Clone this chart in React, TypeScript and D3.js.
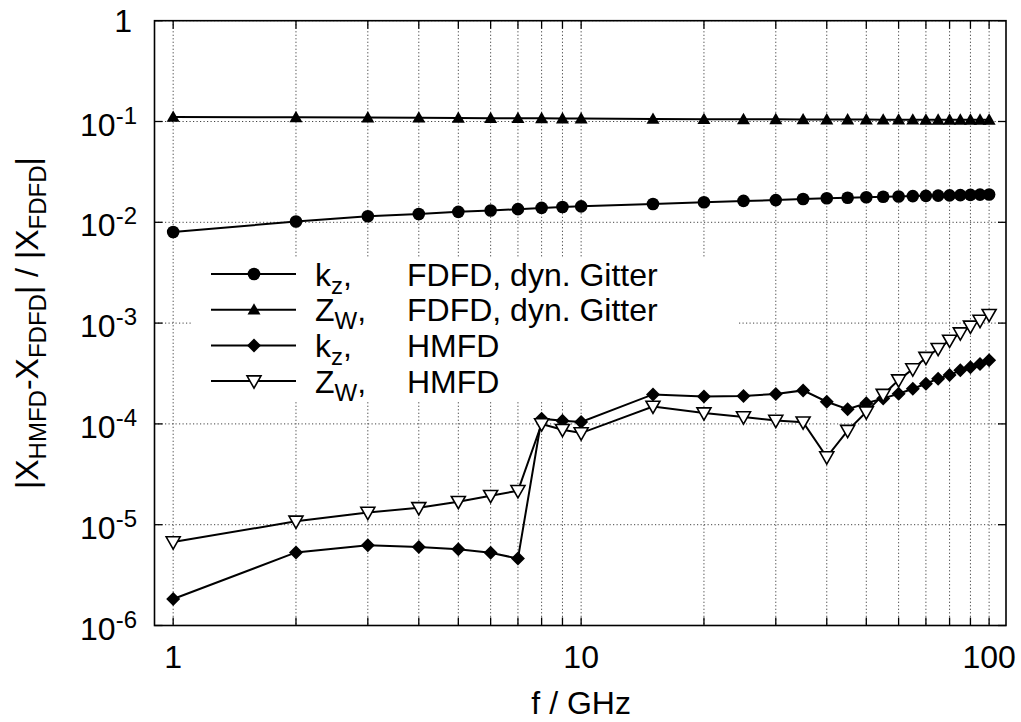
import React from "react";
import * as d3 from "d3";

const freqs = [1, 2, 3, 4, 5, 6, 7, 8, 9, 10, 15, 20, 25, 30, 35, 40, 45, 50, 55, 60, 65, 70, 75, 80, 85, 90, 95, 100];
const kzFdfd = [0.0080, 0.0102, 0.0115, 0.0121, 0.0127, 0.0131, 0.0135, 0.0139, 0.0142, 0.0144, 0.0152, 0.0158, 0.0163, 0.0166, 0.0170, 0.0173, 0.0175, 0.0177, 0.0179, 0.0180, 0.0182, 0.0183, 0.0184, 0.0185, 0.0186, 0.0187, 0.0188, 0.0189];
const zwFdfd = [0.111, 0.110, 0.1095, 0.109, 0.1085, 0.108, 0.108, 0.1075, 0.107, 0.107, 0.106, 0.1055, 0.1052, 0.105, 0.1048, 0.1046, 0.1045, 0.1044, 0.1043, 0.1042, 0.1041, 0.104, 0.104, 0.104, 0.1039, 0.1039, 0.1038, 0.1038];
const kzHmfd = [1.83e-6, 5.31e-6, 6.24e-6, 6.01e-6, 5.70e-6, 5.28e-6, 4.61e-6, 1.127e-4, 1.076e-4, 1.044e-4, 1.96e-4, 1.87e-4, 1.89e-4, 1.98e-4, 2.15e-4, 1.66e-4, 1.40e-4, 1.60e-4, 1.79e-4, 1.99e-4, 2.23e-4, 2.50e-4, 2.81e-4, 3.05e-4, 3.40e-4, 3.64e-4, 3.93e-4, 4.27e-4];
const zwHmfd = [6.73e-6, 1.08e-5, 1.32e-5, 1.47e-5, 1.69e-5, 1.94e-5, 2.17e-5, 9.97e-5, 8.75e-5, 8.11e-5, 1.49e-4, 1.28e-4, 1.17e-4, 1.08e-4, 1.04e-4, 4.69e-5, 8.57e-5, 1.31e-4, 1.95e-4, 2.72e-4, 3.50e-4, 4.54e-4, 5.57e-4, 6.73e-4, 7.96e-4, 9.27e-4, 1.06e-3, 1.21e-3];

const xTickLabels = [1, 10, 100];
const xGridValues = [1, 2, 3, 4, 5, 6, 7, 8, 9, 10, 20, 30, 40, 50, 60, 70, 80, 90, 100];
const yTickExponents = [0, -1, -2, -3, -4, -5, -6];

const seriesDefs = [
  { name: "kz", sub: "z", base: "k", desc: "FDFD, dyn. Gitter", values: kzFdfd, marker: "circle" },
  { name: "zw", sub: "W", base: "Z", desc: "FDFD, dyn. Gitter", values: zwFdfd, marker: "triUp" },
  { name: "kzh", sub: "z", base: "k", desc: "HMFD", values: kzHmfd, marker: "diamond" },
  { name: "zwh", sub: "W", base: "Z", desc: "HMFD", values: zwHmfd, marker: "triDown" },
];

const W = 1021, H = 722;
const left = 154.5, right = 1006, top = 20.7, bottom = 625.5;
const FONT = "'Liberation Sans', Arial, Helvetica, sans-serif";
const FS = 32;
const SFS = 24;

function Marker({ type, x, y }: { type: string; x: number; y: number }) {
  if (type === "circle") return <circle cx={x} cy={y} r={6.3} fill="#000" />;
  if (type === "triUp") {
    const s = 6.5;
    return <path d={`M${x},${y - s}L${x + s},${y + s * 0.75}L${x - s},${y + s * 0.75}Z`} fill="#000" />;
  }
  if (type === "diamond") {
    const s = 7;
    return <path d={`M${x},${y - s}L${x + s},${y}L${x},${y + s}L${x - s},${y}Z`} fill="#000" />;
  }
  const s = 7;
  return (
    <path
      d={`M${x - s},${y - s * 0.75}L${x + s},${y - s * 0.75}L${x},${y + s}Z`}
      fill="#fff"
      stroke="#000"
      strokeWidth={1.6}
    />
  );
}

export default function App() {
  const x = d3.scaleLog().domain([0.9, 110]).range([left, right]);
  const y = d3.scaleLog().domain([1e-6, 1]).range([bottom, top]);
  const line = d3
    .line<[number, number]>()
    .x((d) => x(d[0]))
    .y((d) => y(d[1]));

  const legendRows = [274, 309.7, 345.4, 381.1];
  const gridStyle = { stroke: "#444", strokeWidth: 1, strokeDasharray: "1.2,2.3" };

  return (
    <svg
      width={W}
      height={H}
      style={{ position: "absolute", left: 0, top: 0, background: "#fff" }}
      fontFamily={FONT}
    >
      <rect x={0} y={0} width={W} height={H} fill="#fff" />
      {/* grid */}
      {xGridValues.map((v) => (
        <line key={"gx" + v} x1={x(v)} x2={x(v)} y1={top} y2={bottom} {...gridStyle} />
      ))}
      {yTickExponents.map((e) => (
        <line key={"gy" + e} x1={left} x2={right} y1={y(Math.pow(10, e))} y2={y(Math.pow(10, e))} {...gridStyle} />
      ))}
      {/* legend background */}
      <rect x={192} y={257} width={546} height={143} fill="#fff" />

      {/* ticks */}
      {xGridValues.map((v) => (
        <g key={"tx" + v}>
          <line x1={x(v)} x2={x(v)} y1={bottom} y2={bottom - 8} stroke="#000" strokeWidth={1.3} />
          <line x1={x(v)} x2={x(v)} y1={top} y2={top + 8} stroke="#000" strokeWidth={1.3} />
        </g>
      ))}
      {yTickExponents.map((e) => (
        <g key={"ty" + e}>
          <line x1={left} x2={left + 8} y1={y(Math.pow(10, e))} y2={y(Math.pow(10, e))} stroke="#000" strokeWidth={1.3} />
          <line x1={right} x2={right - 8} y1={y(Math.pow(10, e))} y2={y(Math.pow(10, e))} stroke="#000" strokeWidth={1.3} />
        </g>
      ))}

      {/* data */}
      {seriesDefs.map((s) => (
        <g key={s.name}>
          <path
            d={line(freqs.map((f, i) => [f, s.values[i]] as [number, number])) || ""}
            fill="none"
            stroke="#000"
            strokeWidth={2}
          />
          {freqs.map((f, i) => (
            <Marker key={i} type={s.marker} x={x(f)} y={y(s.values[i])} />
          ))}
        </g>
      ))}

      {/* frame */}
      <rect x={left} y={top} width={right - left} height={bottom - top} fill="none" stroke="#000" strokeWidth={1.6} />

      {/* y tick labels */}
      {yTickExponents.map((e) =>
        e === 0 ? (
          <text key={"ly" + e} x={132} y={y(1) + 11} fontSize={FS} textAnchor="end">
            1
          </text>
        ) : (
          <text key={"ly" + e} x={137} y={y(Math.pow(10, e)) + 14} fontSize={FS} textAnchor="end">
            10
            <tspan fontSize={SFS} dy={-12}>
              {String(e)}
            </tspan>
          </text>
        )
      )}
      {/* x tick labels */}
      {xTickLabels.map((v) => (
        <text key={"lx" + v} x={x(v)} y={668} fontSize={FS} textAnchor="middle">
          {v}
        </text>
      ))}
      {/* axis titles */}
      <text x={x(10)} y={714} fontSize={FS} textAnchor="middle">
        f / GHz
      </text>
      <text transform={`translate(38,${(top + bottom) / 2}) rotate(-90)`} fontSize={FS} textAnchor="middle">
        |X
        <tspan fontSize={SFS} dy={8}>HMFD</tspan>
        <tspan dy={-8}>-X</tspan>
        <tspan fontSize={SFS} dy={8}>FDFD</tspan>
        <tspan dy={-8}>| / |X</tspan>
        <tspan fontSize={SFS} dy={8}>FDFD</tspan>
        <tspan dy={-8}>|</tspan>
      </text>

      {/* legend */}
      {seriesDefs.map((s, i) => {
        const ly = legendRows[i];
        return (
          <g key={"lg" + s.name}>
            <line x1={211} x2={296} y1={ly} y2={ly} stroke="#000" strokeWidth={2} />
            <Marker type={s.marker} x={254} y={ly} />
            <text x={315} y={ly + 11.5} fontSize={FS}>
              {s.base}
              <tspan fontSize={SFS} dy={8}>{s.sub}</tspan>
              <tspan dy={-8}>,</tspan>
            </text>
            <text x={407} y={ly + 11.5} fontSize={FS}>
              {s.desc}
            </text>
          </g>
        );
      })}
    </svg>
  );
}
